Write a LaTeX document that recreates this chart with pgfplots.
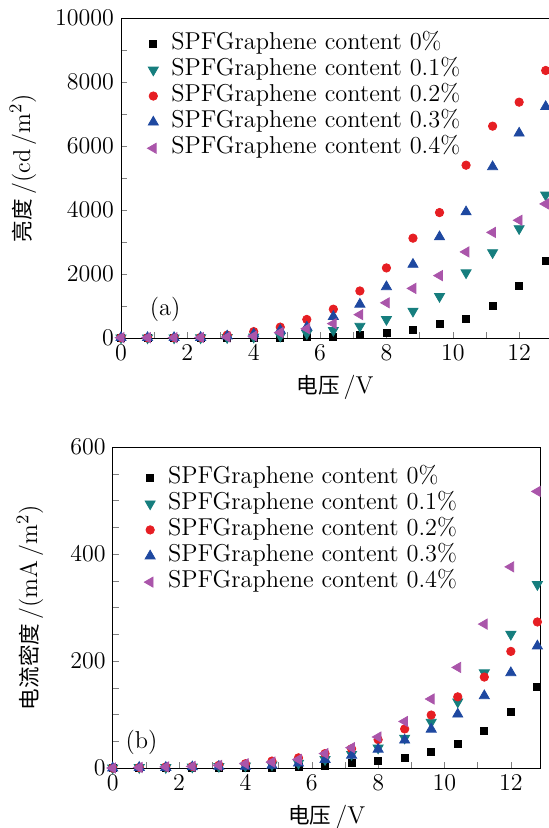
\documentclass[border=0pt]{standalone}
\usepackage{fontspec}
\usepackage{pgfplots}
\usepackage{pgfplotstable}
\pgfplotsset{compat=1.18}
\newfontfamily\cjk{Noto Sans CJK SC}
\definecolor{cTeal}{RGB}{22,126,126}
\definecolor{cRed}{RGB}{230,30,35}
\definecolor{cBlue}{RGB}{30,72,160}
\definecolor{cPurple}{RGB}{170,85,170}
\newcommand\fs{\fontsize{12.2}{14}\selectfont}
\newcommand\cj[1]{{\fontsize{10.8}{13}\selectfont\cjk #1}}

\pgfplotstableread{
x s0 s1 s2 s3 s4
0.0 0 5 10 10 10
0.8 0 5 10 10 10
1.6 0 5 10 10 10
2.4 0 8 20 15 15
3.2 0 15 90 60 30
4.0 0 30 200 120 60
4.8 5 60 340 240 170
5.6 20 140 580 340 290
6.4 50 240 900 670 450
7.2 100 370 1470 1055 730
8.0 160 580 2190 1600 1100
8.8 240 840 3120 2300 1550
9.6 430 1300 3920 3160 1950
10.4 610 2040 5400 3940 2690
11.2 1010 2670 6620 5350 3300
12.0 1630 3420 7370 6400 3680
12.8 2400 4470 8360 7230 4190
}\lumtable

\pgfplotstableread{
x s0 s1 s2 s3 s4
0.0 0 0 0 0 0
0.8 0 1 1 1 1
1.6 0 1 2 1 2
2.4 0 2 3 2 3
3.2 0 3 5 3 5
4.0 0 4 8 3 8
4.8 1 6 13 5 11
5.6 2 9 19 9 16
6.4 4 16 27 16 27
7.2 8.7 25.6 36 23.8 38
8.0 13 37.5 53 35 58
8.8 19.4 56 73 52 87
9.6 30.6 85.6 99 72.5 129
10.4 46 123.6 133 100.6 188
11.2 69 178 170 135 269
12.0 104 250 218 178 376
12.8 152 343 273 228 517
}\curtable

\pgfplotsset{
  myax/.style={
    scale only axis, width=214pt, xmin=0, xmax=12.9,
    xtick={0,2,...,12}, minor x tick num=1,
    tick pos=left, tick align=inside,
    major tick length=3pt, minor tick length=3pt,
    scaled y ticks=false,
    /pgf/number format/1000 sep={},
    tick label style={font=\fs},
    label style={font=\fs},
    legend cell align=left,
    legend style={draw=none, fill=none, font=\fs, anchor=north west,
      nodes={inner sep=1pt, text height=8pt, text depth=2.5pt},
      row sep=0.55pt, column sep=5.5pt},
    every axis plot/.append style={only marks},
    xlabel={\cj{电压}\,/V},
    xlabel style={at={(axis description cs:0.5,-0.153)}, anchor=center},
  },
  s0/.style={mark=square*, mark size=1.75pt, color=black},
  s1/.style={mark=triangle*, mark size=2.9pt, color=cTeal, mark options={rotate=180}},
  s2/.style={mark=*, mark size=2.1pt, color=cRed},
  s3/.style={mark=triangle*, mark size=2.9pt, color=cBlue},
  s4/.style={mark=triangle*, mark size=2.9pt, color=cPurple, mark options={rotate=90}},
}

\begin{document}
\begin{tikzpicture}
\begin{axis}[myax, at={(60.5pt,-169pt)}, anchor=south west, height=160pt,
  ymin=0, ymax=10000, ytick={0,2000,...,10000}, minor y tick num=1,
  ylabel={\cj{亮度}\,/(cd\,/m$^2$)},
  ylabel style={at={(axis description cs:-0.229,0.531)}, anchor=center},
  legend style={at={(axis description cs:0.047,0.972)}},
]
\addplot[s0] table[x=x,y=s0]{\lumtable};
\addlegendentry{SPFGraphene content 0\%}
\addplot[s1] table[x=x,y=s1]{\lumtable};
\addlegendentry{SPFGraphene content 0.1\%}
\addplot[s2] table[x=x,y=s2]{\lumtable};
\addlegendentry{SPFGraphene content 0.2\%}
\addplot[s3] table[x=x,y=s3]{\lumtable};
\addlegendentry{SPFGraphene content 0.3\%}
\addplot[s4] table[x=x,y=s4]{\lumtable};
\addlegendentry{SPFGraphene content 0.4\%}
\node[font=\fs] at (axis cs:1.33,880) {(a)};
\end{axis}
\begin{axis}[myax, at={(56.35pt,-384pt)}, anchor=south west, height=160.5pt,
  ymin=0, ymax=600, ytick={0,200,...,600}, minor y tick num=3,
  ylabel={\cj{电流密度}\,/(mA\,/m$^2$)},
  ylabel style={at={(axis description cs:-0.193,0.5)}, anchor=center},
  legend style={at={(axis description cs:0.059,0.957)}},
]
\addplot[s0] table[x=x,y=s0]{\curtable};
\addlegendentry{SPFGraphene content 0\%}
\addplot[s1] table[x=x,y=s1]{\curtable};
\addlegendentry{SPFGraphene content 0.1\%}
\addplot[s2] table[x=x,y=s2]{\curtable};
\addlegendentry{SPFGraphene content 0.2\%}
\addplot[s3] table[x=x,y=s3]{\curtable};
\addlegendentry{SPFGraphene content 0.3\%}
\addplot[s4] table[x=x,y=s4]{\curtable};
\addlegendentry{SPFGraphene content 0.4\%}
\node[font=\fs] at (axis cs:0.87,48) {(b)};
\end{axis}
\pgfresetboundingbox
\path[use as bounding box] (0,0) rectangle (274.5pt,-414pt);
\end{tikzpicture}
\end{document}
